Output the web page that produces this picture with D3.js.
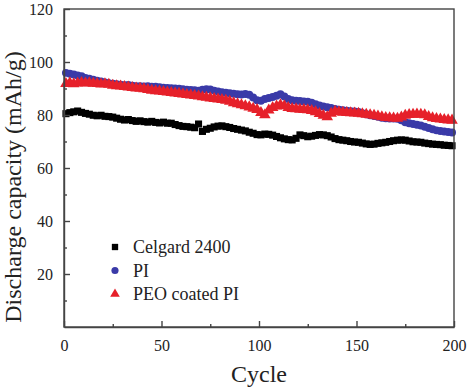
<!DOCTYPE html>
<html>
<head>
<meta charset="utf-8">
<style>
  body { margin: 0; background: #fff; }
  .axis path, .axis line { stroke: #444; stroke-width: 1.4px; }
</style>
</head>
<body>
<script src="https://d3js.org/d3.v7.min.js"></script>
<script>
// cycle numbers (every second cycle)
var cycles = d3.range(1, 201, 2);

var celgard = [
  80.5, 80.9, 81.2, 81.5, 81.0, 80.6, 80.3, 79.9, 79.7, 79.9,
  79.5, 79.4, 79.2, 78.8, 78.4, 78.1, 78.3, 77.9, 77.6, 77.8,
  77.5, 77.3, 77.6, 77.2, 77.0, 77.3, 76.9, 76.9, 76.4, 76.0,
  75.7, 75.6, 75.4, 75.2, 76.6, 73.8, 74.6, 75.0, 75.5, 75.8,
  75.9, 75.6, 75.3, 74.9, 74.6, 74.3, 74.0, 73.5, 73.1, 72.6,
  72.5, 72.8, 72.7, 72.4, 71.9, 71.4, 71.0, 70.7, 70.6, 71.2,
  72.5, 72.2, 71.8, 72.0, 72.3, 72.6, 72.5, 72.2, 71.7, 71.1,
  70.7, 70.5, 70.3, 70.0, 69.8, 69.7, 69.4, 69.1, 68.9, 69.0,
  69.3, 69.5, 69.7, 70.0, 70.3, 70.5, 70.6, 70.5, 70.2, 69.9,
  69.8, 69.7, 69.4, 69.2, 69.0, 68.9, 68.8, 68.6, 68.5, 68.4
];

var pi = [
  95.9, 95.6, 95.3, 94.9, 94.6, 94.0, 93.7, 93.3, 92.9, 92.6,
  92.3, 92.0, 91.8, 91.6, 91.4, 91.2, 91.3, 91.0, 90.9, 90.9,
  90.8, 90.9, 90.7, 90.7, 90.5, 90.3, 90.2, 90.1, 90.0, 89.9,
  89.7, 89.5, 89.4, 89.3, 89.2, 89.5, 89.7, 89.6, 89.2, 88.9,
  88.6, 88.4, 88.2, 88.0, 87.8, 87.7, 87.9, 87.6, 86.6, 85.6,
  85.4, 86.0, 86.4, 86.8, 87.3, 87.8, 87.0, 86.0, 85.6, 85.4,
  85.3, 85.1, 85.0, 84.6, 84.1, 83.6, 83.2, 82.9, 82.6, 82.3,
  82.0, 81.8, 81.6, 81.4, 81.3, 81.1, 80.7, 80.3, 79.9, 79.6,
  79.3, 79.0, 78.8, 78.7, 78.7, 78.6, 78.0, 77.3, 76.9, 76.6,
  76.3, 76.0, 75.6, 75.1, 74.6, 74.2, 74.0, 73.8, 73.6, 73.4
];

var peoPi = [
  91.8, 92.1, 91.7, 92.0, 92.2, 92.0, 92.1, 91.9, 91.8, 91.6,
  91.7, 91.5, 91.2, 91.0, 90.9, 90.7, 90.5, 90.3, 90.1, 90.0,
  89.8, 89.6, 89.3, 89.1, 89.0, 88.8, 88.6, 88.4, 88.2, 88.1,
  87.9, 87.7, 87.5, 87.3, 87.1, 86.8, 86.6, 86.4, 86.2, 86.0,
  85.8, 85.5, 85.1, 84.6, 84.2, 83.8, 83.4, 83.0, 82.5, 82.0,
  80.9, 80.0, 81.8, 82.8, 83.3, 83.8, 83.4, 82.8, 82.4, 82.3,
  82.1, 82.0, 81.9, 81.6, 81.2, 80.5, 79.8, 79.3, 80.6, 81.3,
  81.2, 81.0, 80.9, 80.8, 80.7, 80.6, 80.4, 80.2, 80.0, 79.8,
  79.6, 79.3, 79.0, 78.9, 78.8, 78.7, 79.2, 79.8, 80.1, 80.2,
  80.3, 80.2, 80.0, 79.4, 78.9, 78.6, 78.4, 78.2, 78.1, 78.0
];

var seriesNames = ["Celgard 2400", "PI", "PEO coated PI"];
var seriesColors = ["#000000", "#3a3aa8", "#e6202a"];
var seriesSymbols = [d3.symbolSquare, d3.symbolCircle, d3.symbolTriangle];
var seriesValues = [celgard, pi, peoPi];

var xTicks = [0, 50, 100, 150, 200];
var yTicks = [20, 40, 60, 80, 100, 120];

var serif = "Liberation Serif, Times New Roman, serif";

var W = 470, H = 391;
var margin = {top: 9, right: 16, bottom: 64, left: 64};
var width = W - margin.left - margin.right,
    height = H - margin.top - margin.bottom;

var svg = d3.select("body").append("svg")
    .attr("width", W)
    .attr("height", H)
    .style("font-family", serif);

var g = svg.append("g")
    .attr("transform", "translate(" + margin.left + "," + margin.top + ")");

var x = d3.scaleLinear().domain([0, 200]).range([0, width]);
var y = d3.scaleLinear().domain([0, 120]).range([height, 0]);

// data markers
seriesValues.forEach(function(vals, i) {
  var sym = d3.symbol().type(seriesSymbols[i]).size(i == 2 ? 58 : 50);
  g.append("g").selectAll("path")
      .data(vals)
    .enter().append("path")
      .attr("d", sym)
      .attr("fill", seriesColors[i])
      .attr("transform", function(d, k) {
        return "translate(" + x(cycles[k]) + "," + y(d) + ")";
      });
});

// frame
g.append("rect")
    .attr("width", width)
    .attr("height", height)
    .attr("fill", "none")
    .attr("stroke", "#444")
    .attr("stroke-width", 1.4);

// minor ticks
g.append("g").attr("class", "axis")
    .attr("transform", "translate(0," + height + ")")
    .call(d3.axisBottom(x).tickValues([25, 75, 125, 175]).tickSize(-3).tickFormat(""))
    .select(".domain").remove();
g.append("g").attr("class", "axis")
    .call(d3.axisLeft(y).tickValues([10, 30, 50, 70, 90, 110]).tickSize(-3).tickFormat(""))
    .select(".domain").remove();

// major ticks
var xAxis = g.append("g").attr("class", "axis")
    .attr("transform", "translate(0," + height + ")")
    .call(d3.axisBottom(x).tickValues(xTicks).tickSizeInner(-6).tickSizeOuter(0).tickPadding(13));

var yAxis = g.append("g").attr("class", "axis")
    .call(d3.axisLeft(y).tickValues(yTicks).tickSizeInner(-6).tickSizeOuter(0).tickPadding(11));

[xAxis, yAxis].forEach(function(ax) {
  ax.selectAll("text")
      .style("font-family", serif)
      .style("font-size", "16px")
      .attr("fill", "#222");
});

// axis titles
svg.append("text")
    .attr("x", margin.left + width / 2)
    .attr("y", 382)
    .attr("text-anchor", "middle")
    .attr("fill", "#222")
    .style("font-size", "24px")
    .text("Cycle");

svg.append("text")
    .attr("transform", "translate(21," + 187 + ") rotate(-90)")
    .attr("text-anchor", "middle")
    .attr("fill", "#222")
    .style("font-size", "24px")
    .text("Discharge capacity (mAh/g)");

// legend
var legend = g.append("g")
    .attr("transform", "translate(" + (115 - margin.left) + "," + (247 - margin.top) + ")");
seriesNames.forEach(function(name, i) {
  var row = legend.append("g").attr("transform", "translate(0," + i * 23.5 + ")");
  row.append("path")
      .attr("d", d3.symbol().type(seriesSymbols[i]).size(40))
      .attr("fill", seriesColors[i]);
  row.append("text")
      .attr("x", 18)
      .attr("dy", "0.35em")
      .attr("fill", "#222")
      .style("font-size", "18px")
      .text(name);
});
</script>
</body>
</html>
